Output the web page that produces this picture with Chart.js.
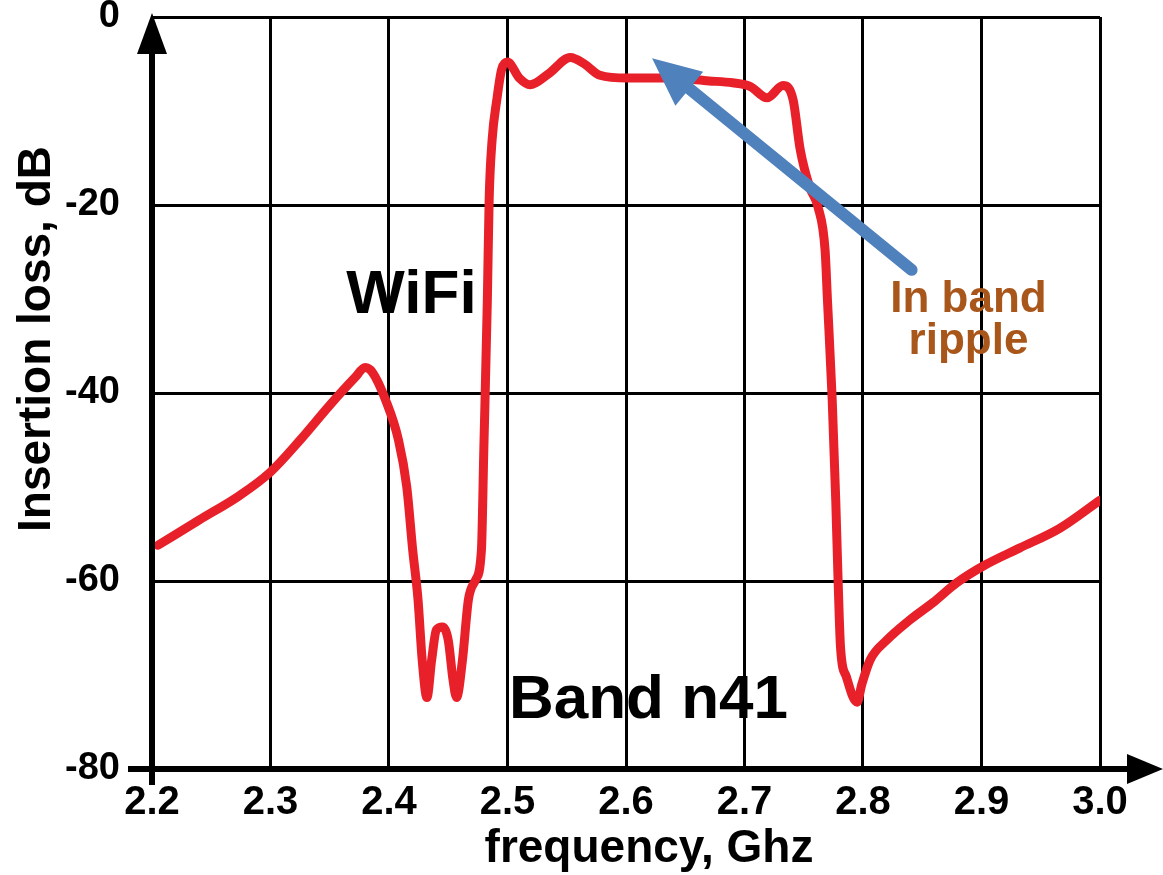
<!DOCTYPE html>
<html>
<head>
<meta charset="utf-8">
<script src="https://cdn.jsdelivr.net/npm/chart.js@4.4.0/dist/chart.umd.min.js"></script>
<style>
  html, body { margin: 0; padding: 0; background: #fff; }
  canvas { display: block; }
</style>
</head>
<body>
<canvas id="chart" width="1163" height="875"></canvas>
<script>
const freqGHz = [
  2.205, 2.240, 2.274, 2.300, 2.325, 2.350, 2.371, 2.380, 2.386, 2.397,
  2.408, 2.415, 2.420, 2.4245, 2.428, 2.432, 2.436, 2.440, 2.445, 2.450,
  2.454, 2.457, 2.462, 2.467, 2.473, 2.478, 2.480, 2.483, 2.4845, 2.487,
  2.491, 2.495, 2.500, 2.510, 2.519, 2.535, 2.553, 2.565, 2.578, 2.601,
  2.635, 2.670, 2.690, 2.705, 2.719, 2.7325, 2.741, 2.747, 2.755, 2.762,
  2.768, 2.770, 2.774, 2.777, 2.779, 2.781, 2.786, 2.795, 2.799, 2.806,
  2.820, 2.840, 2.859, 2.879, 2.903, 2.932, 2.966, 3.000
];
const lossDb = [
  -56.2, -53.5, -50.9, -48.4, -45.0, -41.3, -38.4, -37.3, -37.8, -40.7,
  -45.0, -50.0, -56.7, -62.0, -68.4, -72.4, -68.4, -65.2, -64.9, -66.3,
  -70.5, -72.4, -68.4, -62.0, -59.9, -56.7, -46.1, -30.1, -19.5, -13.1,
  -8.8, -5.6, -4.8, -6.5, -7.2, -6.0, -4.3, -5.0, -6.2, -6.5,
  -6.5, -6.8, -7.0, -7.4, -8.6, -7.3, -8.8, -14.1, -18.1, -20.2,
  -24.8, -30.1, -40.7, -51.4, -60.0, -67.0, -70.2, -72.9, -71.0, -68.4,
  -66.3, -64.1, -62.3, -60.2, -58.3, -56.5, -54.4, -51.4
];
const xTicks = [2.2, 2.3, 2.4, 2.5, 2.6, 2.7, 2.8, 2.9, 3.0];
const yTicks = [0, -20, -40, -60, -80];

// text notes, placed in data units
const notes = [
  { text: 'WiFi', x: 2.419, y: -31.5, font: 'bold 62px "Liberation Sans", Arial, sans-serif', color: '#000' },
  { text: 'Band n41', x: 2.619, y: -74.6, font: 'bold 62px "Liberation Sans", Arial, sans-serif', color: '#000' },
  { text: 'In band', x: 2.889, y: -31.4, font: 'bold 44px "Liberation Sans", Arial, sans-serif', color: '#A9561A' },
  { text: 'ripple', x: 2.889, y: -35.8, font: 'bold 44px "Liberation Sans", Arial, sans-serif', color: '#A9561A' }
];
const pointerFrom = [2.841, -26.9];
const pointerTo = [2.622, -4.4];

const FONT = '"Liberation Sans", Arial, sans-serif';

const decorations = {
  id: 'decorations',
  afterDatasetsDraw(chart) {
    const { ctx, chartArea: a, scales: { x, y } } = chart;
    ctx.save();

    // axes with arrowheads
    ctx.strokeStyle = '#000';
    ctx.fillStyle = '#000';
    ctx.lineWidth = 6;
    ctx.beginPath();
    ctx.moveTo(a.left, a.top + 30);
    ctx.lineTo(a.left, a.bottom + 16);
    ctx.stroke();
    ctx.beginPath();
    ctx.moveTo(a.left - 24, a.bottom);
    ctx.lineTo(a.right + 32, a.bottom);
    ctx.stroke();

    ctx.beginPath();
    ctx.moveTo(a.left, a.top - 4);
    ctx.lineTo(a.left - 15, a.top + 37);
    ctx.lineTo(a.left + 15, a.top + 37);
    ctx.closePath();
    ctx.fill();
    ctx.beginPath();
    ctx.moveTo(a.right + 63, a.bottom);
    ctx.lineTo(a.right + 27, a.bottom - 15);
    ctx.lineTo(a.right + 27, a.bottom + 15);
    ctx.closePath();
    ctx.fill();

    // axis titles
    ctx.font = 'bold 46px ' + FONT;
    ctx.textAlign = 'center';
    ctx.textBaseline = 'alphabetic';
    ctx.fillText('frequency, Ghz', 649, 862);
    ctx.save();
    ctx.translate(50, 339);
    ctx.rotate(-Math.PI / 2);
    ctx.fillText('Insertion loss, dB', 0, 0);
    ctx.restore();

    // notes
    notes.forEach(n => {
      ctx.font = n.font;
      ctx.fillStyle = n.color;
      ctx.fillText(n.text, x.getPixelForValue(n.x), y.getPixelForValue(n.y));
    });

    // blue pointer arrow
    const x0 = x.getPixelForValue(pointerFrom[0]), y0 = y.getPixelForValue(pointerFrom[1]);
    const x1 = x.getPixelForValue(pointerTo[0]), y1 = y.getPixelForValue(pointerTo[1]);
    const len = Math.hypot(x1 - x0, y1 - y0);
    const ux = (x1 - x0) / len, uy = (y1 - y0) / len;
    const headLen = 48, headHalf = 22;
    const bx = x1 - ux * headLen, by = y1 - uy * headLen;
    ctx.strokeStyle = '#4F81BD';
    ctx.fillStyle = '#4F81BD';
    ctx.lineWidth = 12;
    ctx.lineCap = 'round';
    ctx.beginPath();
    ctx.moveTo(x0, y0);
    ctx.lineTo(bx + ux * 4, by + uy * 4);
    ctx.stroke();
    ctx.beginPath();
    ctx.moveTo(x1, y1);
    ctx.lineTo(bx - uy * headHalf, by + ux * headHalf);
    ctx.lineTo(bx + uy * headHalf, by - ux * headHalf);
    ctx.closePath();
    ctx.fill();

    ctx.restore();
  }
};

new Chart(document.getElementById('chart'), {
  type: 'line',
  data: {
    datasets: [{
      data: freqGHz.map((f, i) => ({ x: f, y: lossDb[i] })),
      borderColor: '#E8202A',
      borderWidth: 9,
      pointRadius: 0,
      cubicInterpolationMode: 'monotone',
      borderJoinStyle: 'round',
      borderCapStyle: 'round',
      fill: false
    }]
  },
  options: {
    responsive: false,
    animation: false,
    devicePixelRatio: 1,
    layout: { padding: { left: 0, top: 17, right: 63, bottom: 0 } },
    plugins: { legend: { display: false }, tooltip: { enabled: false } },
    scales: {
      x: {
        type: 'linear',
        min: 2.2,
        max: 3.0,
        afterBuildTicks: s => { s.ticks = xTicks.map(v => ({ value: v })); },
        afterFit: s => { s.height = 106; s.paddingLeft = 0; s.paddingRight = 0; },
        grid: { color: '#000', lineWidth: 3, drawTicks: false },
        border: { display: false },
        ticks: {
          padding: 10,
          color: '#000',
          font: { family: FONT, size: 40, weight: 'bold' },
          callback: v => v.toFixed(1),
          maxRotation: 0
        }
      },
      y: {
        min: -80,
        max: 0,
        afterBuildTicks: s => { s.ticks = yTicks.map(v => ({ value: v })); },
        afterFit: s => { s.width = 152; s.paddingTop = 0; s.paddingBottom = 0; },
        grid: { color: '#000', lineWidth: 3, drawTicks: false },
        border: { display: false },
        ticks: {
          padding: 32,
          color: '#000',
          font: { family: FONT, size: 38, weight: 'bold' },
          callback: v => String(v)
        }
      }
    }
  },
  plugins: [decorations]
});
</script>
</body>
</html>
